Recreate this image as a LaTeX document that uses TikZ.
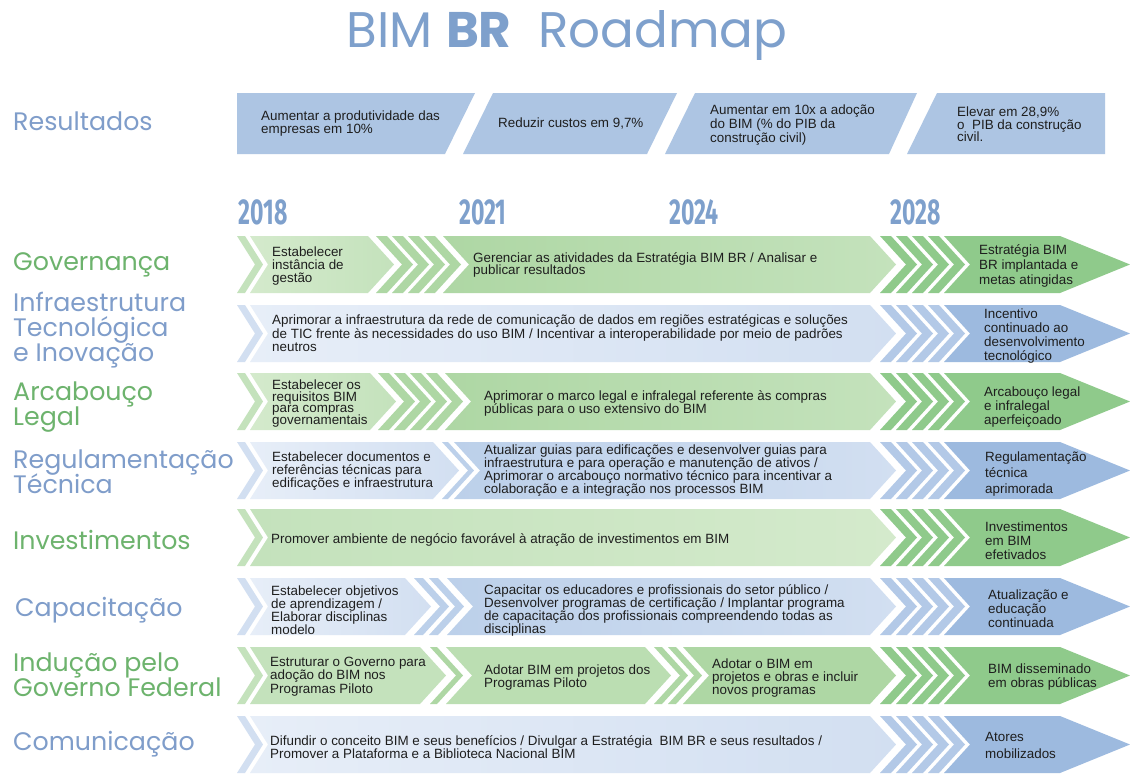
\documentclass[tikz,border=0pt]{standalone}
\usepackage{fontspec}
\setmainfont{Liberation Sans}
\newfontfamily\headfont{Poppins}
\newfontfamily\yearfont{Fira Sans}
\usetikzlibrary{shapes.geometric}

% palette
\definecolor{titleblue}{HTML}{7EA0CC}
\definecolor{labgreen}{HTML}{6DB36D}
\definecolor{labblue}{HTML}{7F9DCA}
\definecolor{resfill}{HTML}{ADC5E3}
\definecolor{txtc}{HTML}{1E1E1E}
\definecolor{gA}{HTML}{D4EACC}
\definecolor{gB}{HTML}{C4E2BC}
\definecolor{gC}{HTML}{AED7A4}
\definecolor{gD}{HTML}{8FCA8B}
\definecolor{bA}{HTML}{E7EEF8}
\definecolor{bB}{HTML}{D2DFF1}
\definecolor{bC}{HTML}{BCD0EA}
\definecolor{bD}{HTML}{9DBADF}

% one chevron band: xL, xR, top, left notch depth, tip depth, fill options
\newcommand{\chevshape}[6]{%
  \path[#6] (#1,#3) -- (#2,#3) -- ({#2+#5},{#3+28.5}) -- (#2,{#3+57})
    -- (#1,{#3+57}) -- ({#1+#4},{#3+28.5}) -- cycle;}
% a run of narrow chevron stripes: first xL, count, period, width, top, fill
\newcommand{\stripes}[6]{%
  \foreach \k in {1,...,#2}{%
    \pgfmathsetmacro{\sx}{#1+(\k-1)*#3}%
    \pgfmathsetmacro{\ex}{\sx+#4}%
    \chevshape{\sx}{\ex}{#5}{26}{26}{fill=#6}}}
% right-hand part shared by every band: tip stripes and final arrow
\newcommand{\finalpart}[3]{%
  \stripes{880}{4}{16}{11}{#1}{#2}%
  \chevshape{944}{1060}{#1}{26}{70}{fill=#3}}
% lead stripe at the left border
\newcommand{\leadstripe}[2]{\chevshape{237}{245}{#1}{18}{18}{fill=#2}}

\tikzset{
  tx/.style={font=\fontsize{13.4}{#1}\selectfont, align=left, anchor=west,
    inner sep=0pt, text=txtc, execute at begin node={\lineskiplimit=-20pt}},
  tx/.default=13,
  rowlab/.style={font=\headfont\fontsize{25.3}{25}\selectfont, align=left,
    anchor=west, inner sep=0pt, execute at begin node={\lineskiplimit=-20pt}},
  yearlab/.style={font=\yearfont\bfseries\fontsize{36}{36}\selectfont,
    text=titleblue, inner sep=0pt},
}

\begin{document}
\begin{tikzpicture}[x=1pt,y=-1pt]
\useasboundingbox (0,0) rectangle (1130,774);
\fill[white] (0,0) rectangle (1130,774);

% title
\node[font=\headfont\fontsize{50}{50}\selectfont, text=titleblue, anchor=base,
  inner sep=0pt] (title) at (567,47) {BIM \textbf{BR}\ \ Roadmap};

% results strip
\fill[resfill] (237,93) -- (475,93) -- (445,154) -- (237,154) -- cycle;
\fill[resfill] (493,93) -- (677,93) -- (647,154) -- (463,154) -- cycle;
\fill[resfill] (695,93) -- (917,93) -- (889,154) -- (665,154) -- cycle;
\fill[resfill] (937,93) -- (1105,93) -- (1105,154) -- (907,154) -- cycle;
\node[tx] (res1) at (261,123.5) {Aumentar a produtividade das\\empresas em 10\%};
\node[tx] (res2) at (498,123) {Reduzir custos em 9,7\%};
\node[tx=14] (res3) at (710,125) {Aumentar em 10x a adoção\\do BIM (\% do PIB da\\construção civil)};
\node[tx=12.5] (res4) at (957,124.5) {Elevar em 28,9\%\\o\ \ PIB da construção\\civil.};

% years
\node[yearlab] (y18) at (263,212) {\scalebox{0.64}[1]{2018}};
\node[yearlab] (y21) at (483,212) {\scalebox{0.64}[1]{2021}};
\node[yearlab] (y24) at (694,212) {\scalebox{0.64}[1]{2024}};
\node[yearlab] (y28) at (916,212) {\scalebox{0.64}[1]{2028}};

% row labels
\node[rowlab, text=labblue] (lres) at (13,121) {Resultados};
\node[rowlab, text=labgreen] (lgov) at (13,264.5) {Governança};
\node[rowlab, text=labblue] (linf) at (13,330.5) {Infraestrutura\\Tecnológica\\e Inovação};
\node[rowlab, text=labgreen] (larc) at (13,407) {Arcabouço\\Legal};
\node[rowlab, text=labblue] (lreg) at (13,472) {Regulamentação\\Técnica};
\node[rowlab, text=labgreen] (linv) at (13,540) {Investimentos};
\node[rowlab, text=labblue] (lcap) at (15,610.5) {Capacitação};
\node[rowlab, text=labgreen] (lind) at (13,675) {Indução pelo\\Governo Federal};
\node[rowlab, text=labblue] (lcom) at (13,744.5) {Comunicação};

% Governança
\leadstripe{236}{gB}
\chevshape{250}{368}{236}{18}{26}{left color=gA, right color=gB}
\stripes{376}{4}{16}{11}{236}{gC}
\chevshape{443}{870}{236}{26}{26}{left color=gC, right color=gB}
\finalpart{236}{gD}{gD}
\node[tx] (gov1) at (272,266) {Estabelecer\\instância de\\gestão};
\node[tx=12] (gov2) at (473,265) {Gerenciar as atividades da Estratégia BIM BR / Analisar e\\publicar resultados};
\node[tx=15] (govF) at (979,265.5) {Estratégia BIM\\BR implantada e\\metas atingidas};

% Infraestrutura
\leadstripe{305}{bB}
\chevshape{250}{870}{305}{18}{26}{left color=bA, right color=bB}
\finalpart{305}{bC!70!bD}{bD}
\node[tx=13.5] (inf1) at (272,333.5) {Aprimorar a infraestrutura da rede de comunicação de dados em regiões estratégicas e soluções\\de TIC frente às necessidades do uso BIM / Incentivar a interoperabilidade por meio de padrões\\neutros};
\node[tx=14] (infF) at (984,336) {Incentivo\\continuado ao\\desenvolvimento\\tecnológico};

% Arcabouço Legal
\leadstripe{373}{gB}
\chevshape{250}{370}{373}{18}{26}{left color=gA, right color=gB}
\stripes{378}{4}{16}{11}{373}{gC}
\chevshape{445}{870}{373}{26}{26}{left color=gC, right color=gB}
\finalpart{373}{gD}{gD}
\node[tx=11.7] (arc1) at (272,403.5) {Estabelecer os\\requisitos BIM\\para compras\\governamentais};
\node[tx] (arc2) at (484,403.5) {Aprimorar o marco legal e infralegal referente às compras\\públicas para o uso extensivo do BIM};
\node[tx=14] (arcF) at (984,407) {Arcabouço legal\\e infralegal\\aperfeiçoado};

% Regulamentação Técnica
\leadstripe{442}{bB}
\chevshape{250}{433}{442}{18}{26}{left color=bA, right color=bB}
\stripes{442}{1}{16}{6}{442}{bC}
\chevshape{454}{870}{442}{26}{26}{left color=bC, right color=bB}
\finalpart{442}{bC!70!bD}{bD}
\node[tx] (reg1) at (272,471) {Estabelecer documentos e\\referências técnicas para\\edificações e infraestrutura};
\node[tx] (reg2) at (484,470.5) {Atualizar guias para edificações e desenvolver guias para\\infraestrutura e para operação e manutenção de ativos /\\Aprimorar o arcabouço normativo técnico para incentivar a\\colaboração e a integração nos processos BIM};
\node[tx=16] (regF) at (985,474) {Regulamentação\\técnica\\aprimorada};

% Investimentos
\leadstripe{509}{gB}
\chevshape{250}{870}{509}{18}{26}{left color=gB, right color=gA}
\finalpart{509}{gD}{gD}
\node[tx] (inv1) at (271,540) {Promover ambiente de negócio favorável à atração de investimentos em BIM};
\node[tx=14] (invF) at (985,541) {Investimentos\\em BIM\\efetivados};

% Capacitação
\leadstripe{578}{bB}
\chevshape{250}{405}{578}{18}{26}{left color=bA, right color=bB}
\stripes{414}{2}{15}{9}{578}{bC}
\chevshape{447}{870}{578}{26}{26}{left color=bC, right color=bB}
\finalpart{578}{bC!70!bD}{bD}
\node[tx] (cap1) at (271,610.5) {Estabelecer objetivos\\de aprendizagem /\\Elaborar disciplinas\\modelo};
\node[tx] (cap2) at (484,610.5) {Capacitar os educadores e profissionais do setor público /\\Desenvolver programas de certificação / Implantar programa\\de capacitação dos profissionais compreendendo todas as\\disciplinas};
\node[tx=14] (capF) at (988,609) {Atualização e\\educação\\continuada};

% Indução pelo Governo Federal
\leadstripe{647}{gB}
\chevshape{250}{420}{647}{18}{26}{fill=gB}
\stripes{430}{1}{16}{7}{647}{gC}
\chevshape{446}{645}{647}{26}{26}{fill=gB!60!gC}
\stripes{654}{2}{14}{8}{647}{gC}
\chevshape{683}{870}{647}{26}{26}{fill=gC}
\finalpart{647}{gD}{gD}
\node[tx=13.5] (ind1) at (270,676.5) {Estruturar o Governo para\\adoção do BIM nos\\Programas Piloto};
\node[tx] (ind2) at (484,677.5) {Adotar BIM em projetos dos\\Programas Piloto};
\node[tx] (ind3) at (712,678) {Adotar o BIM em\\projetos e obras e incluir\\novos programas};
\node[tx=14] (indF) at (988,677) {BIM disseminado\\em obras públicas};

% Comunicação
\leadstripe{716}{bB}
\chevshape{250}{870}{716}{18}{26}{left color=bA, right color=bB}
\finalpart{716}{bC!70!bD}{bD}
\node[tx] (com1) at (270,747.5) {Difundir o conceito BIM e seus benefícios / Divulgar a Estratégia\ \ BIM BR e seus resultados /\\Promover a Plataforma e a Biblioteca Nacional BIM};
\node[tx=17] (comF) at (985,745.5) {Atores\\mobilizados};
\end{tikzpicture}
\end{document}
